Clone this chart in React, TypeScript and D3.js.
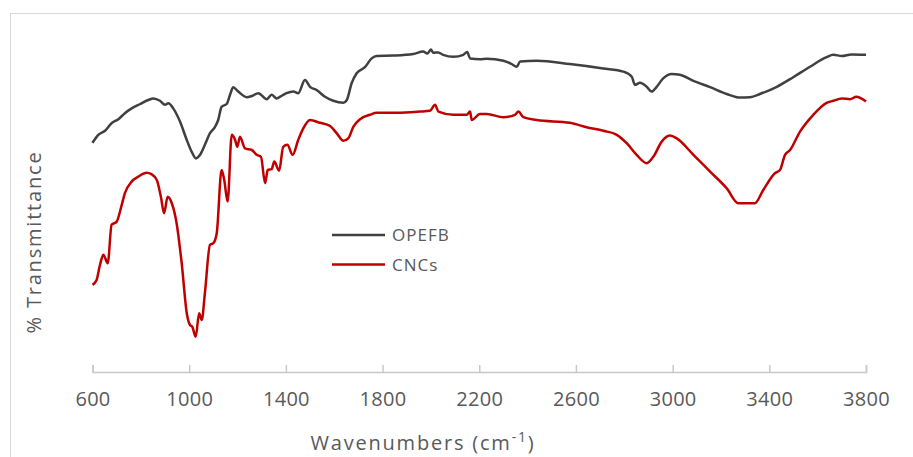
import React, { useEffect, useRef } from 'react';
import * as d3 from 'd3';

// wavenumber (cm-1) and relative transmittance
const opefbWave = [600, 624, 652, 679, 707, 734, 762, 797, 831, 852, 879, 900, 914, 934, 962, 990, 1010, 1028, 1045, 1065, 1086, 1107, 1120, 1134, 1155, 1169, 1182, 1203, 1238, 1259, 1286, 1321, 1341, 1362, 1389, 1403, 1431, 1451, 1479, 1500, 1527, 1562, 1596, 1638, 1652, 1672, 1693, 1727, 1755, 1776, 1845, 1927, 1968, 1985, 2000, 2010, 2030, 2051, 2093, 2134, 2150, 2162, 2203, 2231, 2300, 2334, 2355, 2369, 2438, 2575, 2713, 2796, 2831, 2844, 2865, 2893, 2913, 2934, 2961, 2996, 3030, 3086, 3155, 3224, 3279, 3320, 3361, 3431, 3499, 3568, 3637, 3665, 3700, 3740, 3800];
const opefbT = [57.3, 59.3, 60.3, 62.2, 63.2, 64.7, 65.9, 67.0, 68.0, 68.4, 67.8, 66.8, 67.2, 65.9, 62.6, 58.0, 55.1, 53.4, 54.3, 56.8, 59.7, 61.3, 63.0, 66.3, 67.0, 69.3, 71.2, 70.1, 68.7, 69.0, 69.7, 68.2, 69.3, 68.4, 69.3, 69.7, 70.1, 69.7, 73.0, 71.3, 70.5, 68.8, 67.8, 67.3, 68.0, 72.2, 74.7, 76.2, 78.4, 79.0, 79.1, 79.5, 80.1, 79.6, 80.6, 79.8, 79.9, 79.3, 78.8, 79.3, 80.0, 78.4, 78.2, 78.3, 77.8, 77.0, 76.3, 77.6, 77.8, 77.0, 75.9, 75.1, 73.8, 71.8, 72.3, 71.3, 70.1, 71.3, 73.4, 74.5, 74.3, 72.8, 71.2, 69.5, 68.6, 68.7, 69.5, 71.3, 73.7, 76.3, 78.7, 79.3, 79.0, 79.4, 79.3];

const cncWave = [600, 617, 631, 645, 663, 679, 700, 721, 734, 762, 789, 824, 845, 866, 883, 896, 911, 928, 948, 969, 990, 1003, 1013, 1027, 1041, 1052, 1065, 1086, 1100, 1114, 1134, 1145, 1159, 1176, 1190, 1199, 1210, 1231, 1259, 1279, 1297, 1314, 1325, 1341, 1352, 1372, 1389, 1406, 1428, 1451, 1472, 1500, 1541, 1583, 1610, 1638, 1658, 1679, 1707, 1748, 1776, 1858, 1955, 1996, 2017, 2031, 2093, 2148, 2162, 2169, 2203, 2231, 2300, 2348, 2362, 2382, 2438, 2575, 2644, 2713, 2769, 2810, 2851, 2893, 2920, 2955, 2989, 3017, 3086, 3155, 3224, 3272, 3306, 3340, 3375, 3423, 3444, 3465, 3486, 3527, 3582, 3637, 3665, 3700, 3734, 3760, 3800];
const cncT = [21.8, 23.0, 26.8, 29.3, 27.2, 36.8, 37.6, 41.8, 44.7, 47.6, 48.8, 49.8, 49.4, 48.0, 43.8, 39.7, 43.8, 42.2, 37.2, 27.2, 14.7, 11.8, 11.3, 8.8, 14.7, 13.0, 19.7, 31.8, 32.2, 34.7, 50.5, 48.0, 42.6, 59.3, 58.0, 56.3, 58.8, 55.9, 55.5, 54.3, 53.8, 47.2, 50.5, 50.7, 52.6, 50.3, 56.3, 56.8, 54.3, 58.0, 60.9, 63.0, 62.3, 61.5, 59.7, 57.8, 58.4, 61.3, 63.2, 64.3, 64.8, 64.8, 65.1, 65.3, 66.8, 65.1, 64.3, 64.3, 65.1, 63.0, 64.5, 64.5, 63.7, 64.3, 65.1, 63.7, 63.0, 62.3, 61.2, 60.3, 59.3, 57.2, 54.3, 52.2, 53.8, 57.6, 59.1, 58.4, 54.3, 50.1, 45.9, 42.2, 42.2, 42.2, 45.5, 49.7, 50.5, 54.3, 55.5, 60.1, 64.3, 67.3, 67.8, 68.4, 68.2, 68.8, 67.6];

const xTicks = [600, 1000, 1400, 1800, 2200, 2600, 3000, 3400, 3800];
const seriesNames = ['OPEFB', 'CNCs'];
const seriesColors = ['#404040', '#c00000'];

const FtirChart = () => {
  const svgRef = useRef<SVGSVGElement>(null);

  useEffect(() => {
    const width = 913;
    const height = 457;
    const left = 92.5;
    const right = 866;
    const top = 12;
    const bottom = 372;
    const font = '"Open Sans", sans-serif';

    const svg = d3.select(svgRef.current);
    svg.selectAll('*').remove();
    svg.attr('width', width).attr('height', height);

    // chart frame (only top and left show inside the picture)
    svg.append('rect')
      .attr('x', 10.5).attr('y', 13.5)
      .attr('width', 940).attr('height', 480)
      .attr('fill', 'none').attr('stroke', '#d9d9d9');

    const x = d3.scaleLinear().domain([600, 3800]).range([left, right]);
    const y = d3.scaleLinear().domain([0, 90]).range([bottom, top]);

    // x axis
    const axis = svg.append('g')
      .attr('transform', `translate(0,${bottom})`)
      .call(d3.axisBottom(x).tickValues(xTicks).tickSize(-7).tickPadding(0).tickFormat(d3.format('d')));
    axis.select('.domain').attr('stroke', '#c8c8c8').attr('stroke-width', 1.5);
    axis.selectAll('.tick line').attr('stroke', '#c8c8c8').attr('stroke-width', 1.5);
    axis.selectAll('.tick text')
      .attr('y', 34)
      .attr('dy', null)
      .attr('fill', '#595959')
      .style('font-family', font)
      .style('font-size', '20px')
      .style('letter-spacing', '0.3px');

    const series = [
      opefbWave.map((w, i) => [w, opefbT[i]] as [number, number]),
      cncWave.map((w, i) => [w, cncT[i]] as [number, number]),
    ];

    const line = d3.line<[number, number]>()
      .x(d => x(d[0]))
      .y(d => y(d[1]))
      .curve(d3.curveMonotoneX);

    series.forEach((s, i) => {
      svg.append('path')
        .datum(s)
        .attr('d', line)
        .attr('fill', 'none')
        .attr('stroke', seriesColors[i])
        .attr('stroke-width', 2.5)
        .attr('stroke-linejoin', 'round');
    });

    // axis titles
    const title = svg.append('text')
      .attr('x', 423).attr('y', 450)
      .attr('text-anchor', 'middle')
      .attr('fill', '#595959')
      .style('font-family', font)
      .style('font-size', '20px')
      .style('letter-spacing', '1.8px');
    title.append('tspan').text('Wavenumbers (cm');
    title.append('tspan').attr('dy', -8).style('font-size', '14px').text('-1');
    title.append('tspan').attr('dy', 8).text(')');

    svg.append('text')
      .attr('transform', 'translate(41,242) rotate(-90)')
      .attr('text-anchor', 'middle')
      .attr('fill', '#595959')
      .style('font-family', font)
      .style('font-size', '20px')
      .style('letter-spacing', '1.8px')
      .text('% Transmittance');

    // legend
    const legend = svg.append('g');
    seriesNames.forEach((name, i) => {
      const ly = 235 + i * 29.5;
      legend.append('line')
        .attr('x1', 332).attr('x2', 385)
        .attr('y1', ly).attr('y2', ly)
        .attr('stroke', seriesColors[i])
        .attr('stroke-width', 2.5);
      legend.append('text')
        .attr('x', 392).attr('y', ly + 6)
        .attr('fill', '#595959')
        .style('font-family', font)
        .style('font-size', '17px')
        .style('letter-spacing', '1px')
        .text(name);
    });
  }, []);

  return <svg ref={svgRef} style={{ display: 'block' }} />;
};

export default function App() {
  return (
    <div style={{ position: 'absolute', left: 0, top: 0 }}>
      <FtirChart />
    </div>
  );
}
